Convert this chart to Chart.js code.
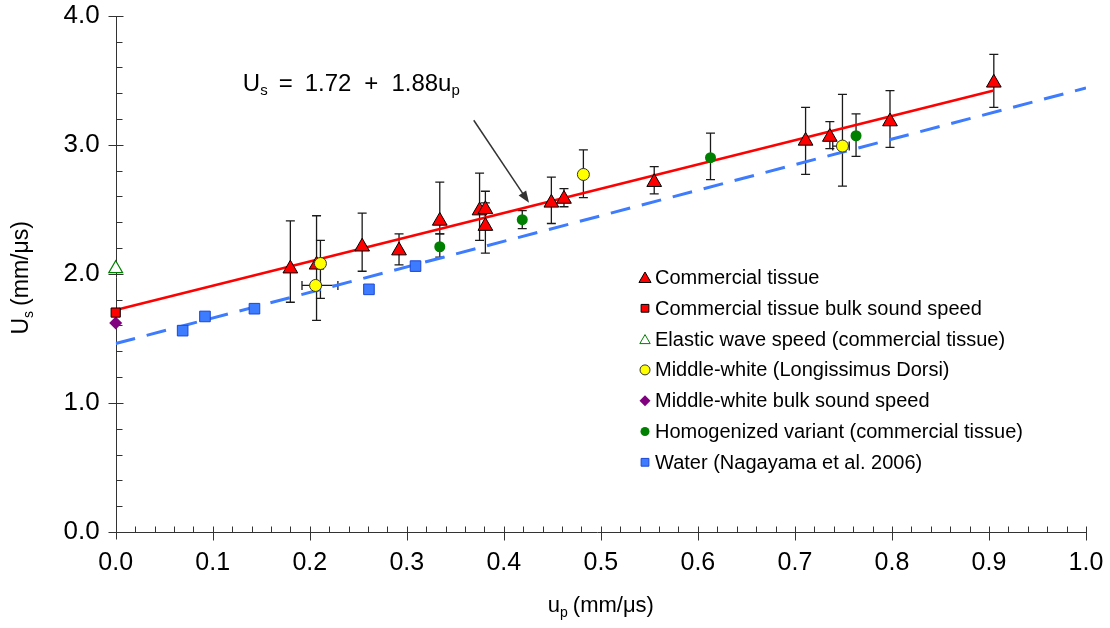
<!DOCTYPE html>
<html>
<head>
<meta charset="utf-8">
<script src="https://cdn.jsdelivr.net/npm/chart.js@4.4.0/dist/chart.umd.min.js"></script>
<style>
  html, body { margin: 0; padding: 0; background: #fff; }
  #wrap { width: 1110px; height: 628px; }
</style>
</head>
<body>
<div id="wrap"><canvas id="chart" width="1110" height="628"></canvas></div>
<script>
// values: u_p and U_s in mm/us

// Commercial tissue (red triangles) with error bar ends
const tissueUp = [0.180, 0.207, 0.254, 0.292, 0.334, 0.375, 0.381, 0.381, 0.449, 0.462, 0.555, 0.711, 0.736, 0.798, 0.905];
const tissueUs = [2.04, 2.07, 2.21, 2.18, 2.41, 2.49, 2.50, 2.37, 2.55, 2.58, 2.71, 3.03, 3.06, 3.18, 3.48];
const tissueLo = [1.78, 1.64, 2.02, 2.07, 2.31, 2.26, 2.38, 2.16, 2.39, 2.52, 2.62, 2.77, 2.97, 2.98, 3.29];
const tissueHi = [2.41, 2.45, 2.47, 2.31, 2.71, 2.78, 2.64, 2.55, 2.75, 2.66, 2.83, 3.29, 3.18, 3.42, 3.70];

// bulk / elastic speeds at u_p = 0
const tissueBulkUp = [0];
const tissueBulkUs = [1.70];
const elasticUp = [0];
const elasticUs = [2.04];
const mwBulkUp = [0];
const mwBulkUs = [1.62];

// Middle-white (yellow circles)
const mwUp  = [0.211, 0.206, 0.482, 0.749];
const mwUs  = [2.08, 1.91, 2.77, 2.99];
const mwLo  = [1.81, null, 2.59, 2.68];
const mwHi  = [2.26, null, 2.96, 3.39];
const mwXLo = [null, 0.192, null, 0.739];
const mwXHi = [null, 0.229, null, 0.756];

// Homogenized variant (green circles)
const homUp = [0.334, 0.419, 0.613, 0.763];
const homUs = [2.21, 2.42, 2.90, 3.07];
const homLo = [2.13, 2.35, 2.73, 2.91];
const homHi = [2.31, 2.49, 3.09, 3.24];

// Water (Nagayama et al. 2006)
const waterUp = [0.069, 0.092, 0.143, 0.261, 0.309];
const waterUs = [1.56, 1.67, 1.73, 1.88, 2.06];

// fit lines (end points)
const tissueFitUp = [0, 0.905];
const tissueFitUs = [1.72, 3.42];
const waterFitUp = [0, 1.0];
const waterFitUs = [1.46, 3.44];

// axis ticks
const xTicks = [0, 0.1, 0.2, 0.3, 0.4, 0.5, 0.6, 0.7, 0.8, 0.9, 1.0];
const yTicks = [0, 1, 2, 3, 4];

const FONT = "'Liberation Sans', Arial, sans-serif";
const AXIS_COLOR = '#333';

const pts = (xs, ys) => xs.map((x, i) => ({ x: x, y: ys[i] }));

// small marker painter (legend uses it too)
function marker(ctx, style, x, y, r, fill, stroke, lw) {
  ctx.save();
  ctx.beginPath();
  if (style === 'triangle') {
    ctx.moveTo(x, y - r);
    ctx.lineTo(x + r * 0.866, y + r * 0.5);
    ctx.lineTo(x - r * 0.866, y + r * 0.5);
    ctx.closePath();
  } else if (style === 'rect') {
    const s = r * Math.SQRT1_2;
    ctx.rect(x - s, y - s, 2 * s, 2 * s);
  } else if (style === 'rectRot') {
    ctx.moveTo(x, y - r); ctx.lineTo(x + r, y); ctx.lineTo(x, y + r); ctx.lineTo(x - r, y);
    ctx.closePath();
  } else {
    ctx.arc(x, y, r, 0, Math.PI * 2);
  }
  ctx.fillStyle = fill;
  ctx.fill();
  if (lw > 0) { ctx.lineWidth = lw; ctx.strokeStyle = stroke; ctx.stroke(); }
  ctx.restore();
}

// rich text with subscripts: parts = [{t, size, dy, gap}]
function drawRich(ctx, parts, x, y, center) {
  let total = 0;
  parts.forEach(p => {
    ctx.font = p.size + 'px ' + FONT;
    p.w = ctx.measureText(p.t).width + (p.gap || 0);
    total += p.w;
  });
  let cx = center ? x - total / 2 : x;
  parts.forEach(p => {
    ctx.font = p.size + 'px ' + FONT;
    ctx.fillText(p.t, cx, y + (p.dy || 0));
    cx += p.w;
  });
}

/* --- axes lines + inner minor ticks + error bars --- */
const axesPlugin = {
  id: 'axesPlugin',
  beforeDatasetsDraw(chart) {
    const { ctx, chartArea: a, scales: { x, y } } = chart;
    const x0 = Math.round(a.left) + 0.5, y0 = Math.round(a.bottom) + 0.5;
    ctx.save();
    ctx.strokeStyle = AXIS_COLOR;
    ctx.lineWidth = 1;
    ctx.beginPath();
    ctx.moveTo(x0, Math.round(a.top)); ctx.lineTo(x0, y0 + 7);
    ctx.moveTo(x0 - 8, y0); ctx.lineTo(Math.round(a.right) + 0.5, y0);
    for (let i = 1; i <= 20; i++) {
      const py = Math.round(y.getPixelForValue(i / 5)) + 0.5;
      if (i % 5 === 0) { ctx.moveTo(x0 - 8, py); ctx.lineTo(x0 + 7, py); }
      else { ctx.moveTo(x0, py); ctx.lineTo(x0 + 6, py); }
    }
    for (let i = 1; i <= 50; i++) {
      const px = Math.round(x.getPixelForValue(i / 50)) + 0.5;
      if (i % 5 === 0) { ctx.moveTo(px, y0 - 6); ctx.lineTo(px, y0 + 8); }
      else { ctx.moveTo(px, y0 - 6); ctx.lineTo(px, y0); }
    }
    ctx.stroke();

    // error bars, under the markers
    ctx.strokeStyle = '#1a1a1a';
    ctx.lineWidth = 1.3;
    const cap = 4.5;
    chart.data.datasets.forEach(ds => {
      if (!ds.errLo && !ds.xLo) return;
      ds.data.forEach((p, i) => {
        const px = x.getPixelForValue(p.x), py = y.getPixelForValue(p.y);
        ctx.beginPath();
        if (ds.errLo && ds.errLo[i] != null) {
          const lo = y.getPixelForValue(ds.errLo[i]), hi = y.getPixelForValue(ds.errHi[i]);
          ctx.moveTo(px, lo); ctx.lineTo(px, hi);
          ctx.moveTo(px - cap, lo); ctx.lineTo(px + cap, lo);
          ctx.moveTo(px - cap, hi); ctx.lineTo(px + cap, hi);
        }
        if (ds.xLo && ds.xLo[i] != null) {
          const l = x.getPixelForValue(ds.xLo[i]), r = x.getPixelForValue(ds.xHi[i]);
          ctx.moveTo(l, py); ctx.lineTo(r, py);
          ctx.moveTo(l, py - cap); ctx.lineTo(l, py + cap);
          ctx.moveTo(r, py - cap); ctx.lineTo(r, py + cap);
        }
        ctx.stroke();
      });
    });
    ctx.restore();
  }
};

/* --- titles, equation, arrow, legend --- */
const legendItems = [
  { label: 'Commercial tissue', style: 'triangle', r: 7, fill: '#ff0000', stroke: '#000', lw: 1 },
  { label: 'Commercial tissue bulk sound speed', style: 'rect', r: 5.5, fill: '#ff0000', stroke: '#000', lw: 1 },
  { label: 'Elastic wave speed (commercial tissue)', style: 'triangle', r: 6, fill: '#fff', stroke: '#008000', lw: 1 },
  { label: 'Middle-white (Longissimus Dorsi)', style: 'circle', r: 5, fill: '#ffff00', stroke: '#333', lw: 1 },
  { label: 'Middle-white bulk sound speed', style: 'rectRot', r: 5.5, fill: '#800080', stroke: '#800080', lw: 0 },
  { label: 'Homogenized variant (commercial tissue)', style: 'circle', r: 4.5, fill: '#008000', stroke: '#008000', lw: 0 },
  { label: 'Water (Nagayama et al. 2006)', style: 'rect', r: 5.5, fill: '#3d7bff', stroke: '#1a47d9', lw: 1 }
];

const annot = { textUp: 0.131, textUs: 3.416, tailUp: 0.369, tailUs: 3.19, tipUp: 0.426, tipUs: 2.55 };

const decoPlugin = {
  id: 'decoPlugin',
  afterDraw(chart) {
    const { ctx, chartArea: a, scales: { x, y } } = chart;
    ctx.save();
    ctx.fillStyle = '#000';
    ctx.textBaseline = 'alphabetic';
    ctx.textAlign = 'left';

    // x title
    drawRich(ctx, [
      { t: 'u', size: 22 }, { t: 'p', size: 14, dy: 5, gap: 5 }, { t: '(mm/\u03bcs)', size: 22 }
    ], (a.left + a.right) / 2, 612, true);

    // y title
    ctx.save();
    ctx.translate(28, (a.top + a.bottom) / 2 + 4);
    ctx.rotate(-Math.PI / 2);
    drawRich(ctx, [
      { t: 'U', size: 23 }, { t: 's', size: 14, dy: 5, gap: 5 }, { t: '(mm/\u03bcs)', size: 23 }
    ], 0, 0, true);
    ctx.restore();

    // equation
    drawRich(ctx, [
      { t: 'U', size: 24 }, { t: 's', size: 15, dy: 4, gap: 11 },
      { t: '=', size: 24, gap: 12 }, { t: '1.72', size: 24, gap: 13 },
      { t: '+', size: 24, gap: 13 }, { t: '1.88u', size: 24 }, { t: 'p', size: 15, dy: 4 }
    ], x.getPixelForValue(annot.textUp), y.getPixelForValue(annot.textUs), false);

    // arrow
    const tx = x.getPixelForValue(annot.tailUp), ty = y.getPixelForValue(annot.tailUs);
    const hx = x.getPixelForValue(annot.tipUp), hy = y.getPixelForValue(annot.tipUs);
    const ang = Math.atan2(hy - ty, hx - tx);
    ctx.strokeStyle = '#333';
    ctx.fillStyle = '#333';
    ctx.lineWidth = 1.5;
    ctx.beginPath();
    ctx.moveTo(tx, ty);
    ctx.lineTo(hx - 9 * Math.cos(ang), hy - 9 * Math.sin(ang));
    ctx.stroke();
    ctx.beginPath();
    ctx.moveTo(hx, hy);
    ctx.lineTo(hx - 12 * Math.cos(ang) + 4.5 * Math.sin(ang), hy - 12 * Math.sin(ang) - 4.5 * Math.cos(ang));
    ctx.lineTo(hx - 12 * Math.cos(ang) - 4.5 * Math.sin(ang), hy - 12 * Math.sin(ang) + 4.5 * Math.cos(ang));
    ctx.closePath();
    ctx.fill();

    // legend
    ctx.font = '20px ' + FONT;
    ctx.textBaseline = 'middle';
    ctx.fillStyle = '#000';
    legendItems.forEach((it, i) => {
      const ly = 277.5 + i * 30.8;
      marker(ctx, it.style, 645, ly + (it.style === 'triangle' ? 1.5 : 0), it.r, it.fill, it.stroke, it.lw);
      ctx.fillText(it.label, 655, ly + 1);
    });
    ctx.restore();
  }
};

const ctx = document.getElementById('chart').getContext('2d');
new Chart(ctx, {
  type: 'scatter',
  data: {
    datasets: [
      { label: 'Commercial tissue', data: pts(tissueUp, tissueUs), errLo: tissueLo, errHi: tissueHi,
        pointStyle: 'triangle', pointRadius: 8.5, backgroundColor: '#ff0000', borderColor: '#000', borderWidth: 1, order: 3, clip: false },
      { label: 'Commercial tissue bulk sound speed', data: pts(tissueBulkUp, tissueBulkUs),
        pointStyle: 'rect', pointRadius: 6.5, backgroundColor: '#ff0000', borderColor: '#000', borderWidth: 1, order: 2, clip: false },
      { label: 'Elastic wave speed (commercial tissue)', data: pts(elasticUp, elasticUs),
        pointStyle: 'triangle', pointRadius: 8, backgroundColor: '#fff', borderColor: '#008000', borderWidth: 1.2, order: 2, clip: false },
      { label: 'Middle-white (Longissimus Dorsi)', data: pts(mwUp, mwUs), errLo: mwLo, errHi: mwHi, xLo: mwXLo, xHi: mwXHi,
        pointStyle: 'circle', pointRadius: 6, backgroundColor: '#ffff00', borderColor: '#333', borderWidth: 1, order: 2, clip: false },
      { label: 'Middle-white bulk sound speed', data: pts(mwBulkUp, mwBulkUs),
        pointStyle: 'rectRot', pointRadius: 6.5, backgroundColor: '#800080', borderColor: '#800080', borderWidth: 0, order: 2, clip: false },
      { label: 'Homogenized variant (commercial tissue)', data: pts(homUp, homUs), errLo: homLo, errHi: homHi,
        pointStyle: 'circle', pointRadius: 5.5, backgroundColor: '#008000', borderColor: '#008000', borderWidth: 0, order: 2, clip: false },
      { label: 'Water (Nagayama et al. 2006)', data: pts(waterUp, waterUs),
        pointStyle: 'rect', pointRadius: 7.5, backgroundColor: '#3d7bff', borderColor: '#1a47d9', borderWidth: 1, order: 2, clip: false },
      { label: 'tissue fit', data: pts(tissueFitUp, tissueFitUs), showLine: true, pointRadius: 0,
        borderColor: '#ff0000', borderWidth: 2.5, order: 5 },
      { label: 'water fit', data: pts(waterFitUp, waterFitUs), showLine: true, pointRadius: 0,
        borderColor: '#3d7bff', borderWidth: 3, borderDash: [20, 12], order: 6 }
    ]
  },
  options: {
    responsive: false,
    animation: false,
    layout: { padding: { top: 15.7, right: 24, left: 0, bottom: 0 } },
    plugins: { legend: { display: false }, tooltip: { enabled: false } },
    scales: {
      x: {
        type: 'linear', min: 0, max: 1,
        afterFit(s) { s.height = 96; s.paddingLeft = 0; s.paddingRight = 0; },
        afterBuildTicks(s) { s.ticks = xTicks.map(v => ({ value: v })); },
        ticks: { callback: v => v.toFixed(1), font: { family: FONT, size: 25 }, color: '#000', padding: 8, maxRotation: 0, autoSkip: false },
        grid: { display: false },
        border: { display: false }
      },
      y: {
        min: 0, max: 4,
        afterFit(s) { s.width = 115.7; s.paddingTop = 0; s.paddingBottom = 0; },
        afterBuildTicks(s) { s.ticks = yTicks.map(v => ({ value: v })); },
        ticks: { callback: v => v.toFixed(1), font: { family: FONT, size: 26 }, color: '#000', padding: 8 },
        grid: { display: false },
        border: { display: false }
      }
    }
  },
  plugins: [axesPlugin, decoPlugin]
});
</script>
</body>
</html>
